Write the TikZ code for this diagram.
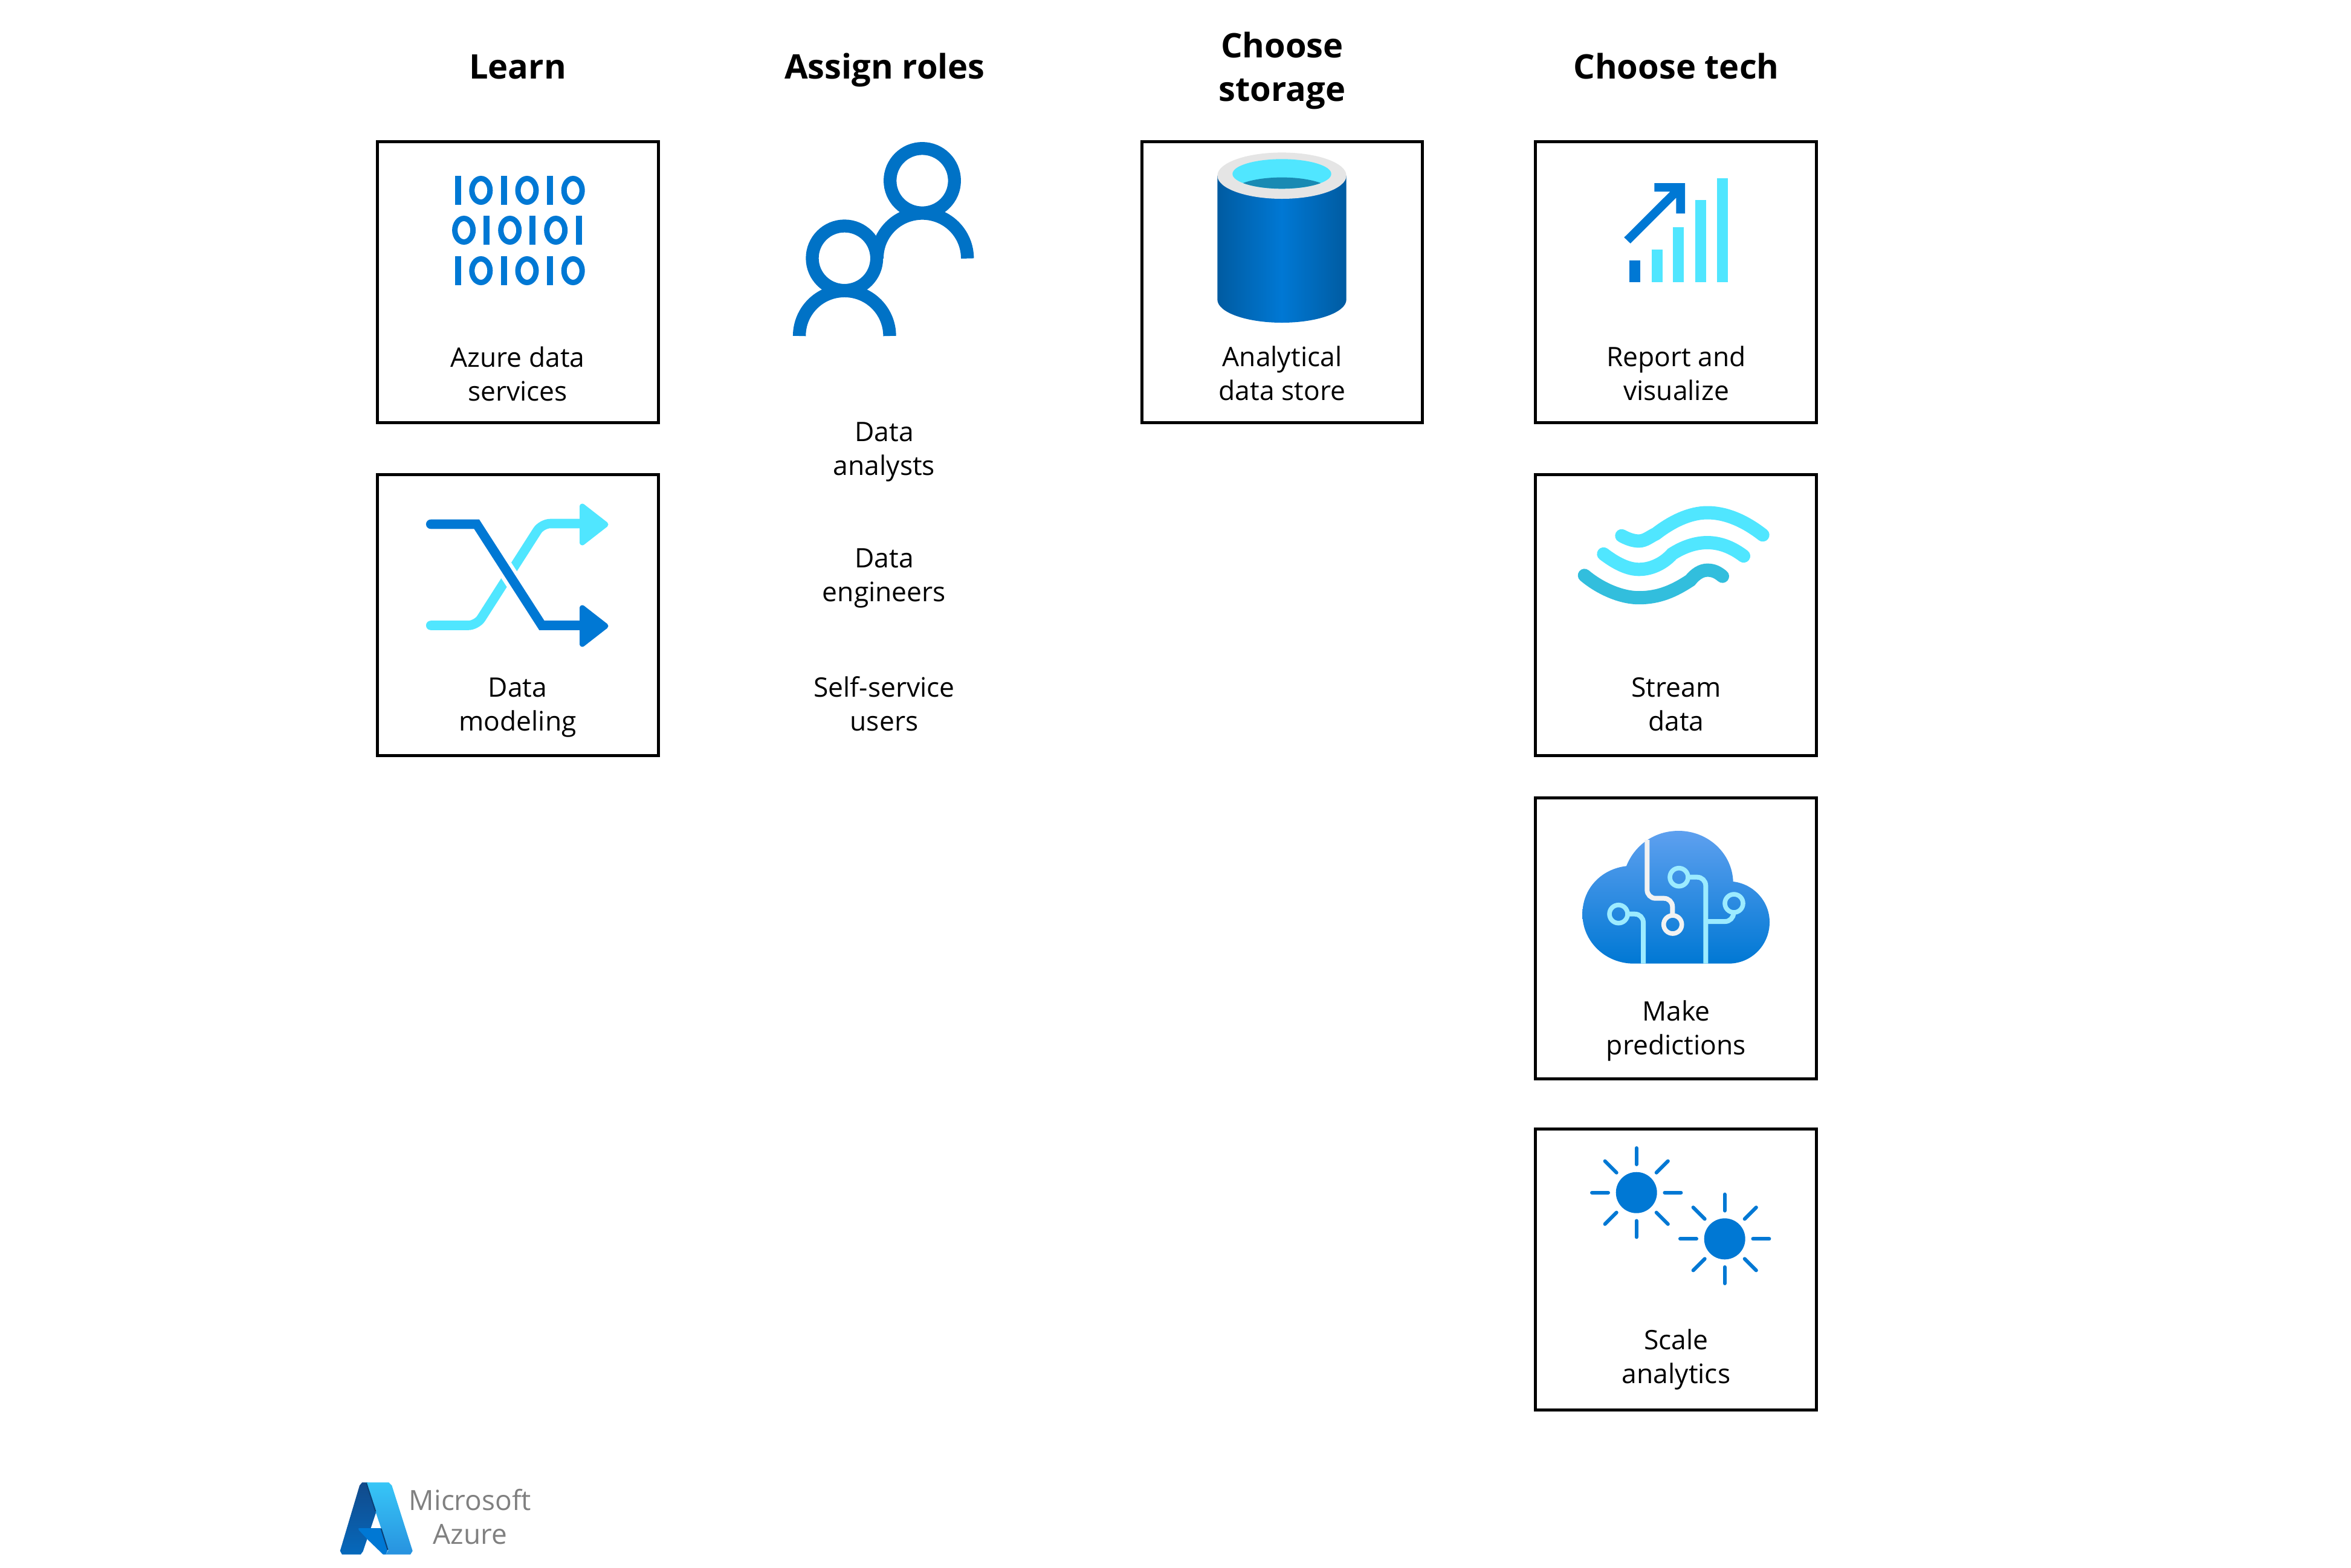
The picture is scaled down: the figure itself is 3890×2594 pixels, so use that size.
\documentclass[tikz,border=0pt]{standalone}
\usepackage{fontspec}
\setmainfont{Open Sans}
\definecolor{azblue}{HTML}{0078D4}
\definecolor{azcyan}{HTML}{50E6FF}
\definecolor{azpeople}{HTML}{0072C6}
\definecolor{azwave}{HTML}{32BEDD}
\definecolor{azpale}{HTML}{9CEBFF}
\definecolor{azgrey}{HTML}{F2F2F2}
\definecolor{azshadow}{HTML}{0B3F74}
\tikzset{every picture/.style={line width=0.75pt}}
\tikzset{
  boxline/.style={draw=black,line width=1.25pt},
  coltitle/.style={inner sep=0pt,anchor=base,align=center,font=\fontsize{14}{18}\selectfont\bfseries},
  itemtext/.style={inner sep=0pt,anchor=base,align=center,font=\fontsize{11.1}{14}\selectfont},
  logotext/.style={inner sep=0pt,anchor=base,align=center,text=black!50,font=\fontsize{11.5}{14}\selectfont},
  bitone/.style={draw=azblue,line width=2.5pt},
  bitzero/.style={draw=azblue,line width=2.25pt},
  sunray/.style={draw=azblue,line width=1.5pt,line cap=round},
  waveline/.style={line width=5.5pt,line cap=round},
  circuit/.style={line width=2pt,rounded corners=3.5pt}
}
\begin{document}
\begin{tikzpicture}[x=0.25pt,y=0.25pt,yscale=-1,xscale=1]
\useasboundingbox (0,0) rectangle (3890,2594);

%Shape: Rectangle
\draw [boxline] (624,234.7) rectangle (1089,699.7);
\draw [boxline] (624,785) rectangle (1089,1250.4);
\draw [boxline] (1889,234.7) rectangle (2353.5,699.7);
\draw [boxline] (2540.5,234.7) rectangle (3005.5,699.7);
\draw [boxline] (2540.5,785) rectangle (3005.5,1250.4);
\draw [boxline] (2540.5,1320.5) rectangle (3005.5,1785.5);
\draw [boxline] (2540.5,1868.5) rectangle (3005.5,2333.5);

%Binary digits, first row
\draw [bitone] (757.7,291) -- (757.7,339);
\draw [bitzero] (795.8,315) ellipse (15 and 19.5);
\draw [bitone] (833.9,291) -- (833.9,339);
\draw [bitzero] (872,315) ellipse (15 and 19.5);
\draw [bitone] (910.1,291) -- (910.1,339);
\draw [bitzero] (948.2,315) ellipse (15 and 19.5);
%Binary digits, second row
\draw [bitzero] (767.6,381) ellipse (15 and 19.5);
\draw [bitone] (805,357) -- (805,405);
\draw [bitzero] (843.7,381) ellipse (15 and 19.5);
\draw [bitone] (881,357) -- (881,405);
\draw [bitzero] (919.7,381) ellipse (15 and 19.5);
\draw [bitone] (957.7,357) -- (957.7,405);
%Binary digits, third row
\draw [bitone] (757.7,424) -- (757.7,472);
\draw [bitzero] (795.8,448) ellipse (15 and 19.5);
\draw [bitone] (833.9,424) -- (833.9,472);
\draw [bitzero] (872,448) ellipse (15 and 19.5);
\draw [bitone] (910.1,424) -- (910.1,472);
\draw [bitzero] (948.2,448) ellipse (15 and 19.5);

%Shuffle arrows
\draw [azcyan,line width=3.9pt,line cap=round,rounded corners=3.5pt] (712.7,1035) -- (788.7,1035) -- (896.5,866.5) -- (966,866.5);
\draw [white,line width=7pt] (825,924.5) -- (860,978.5);
\draw [azblue,line width=3.9pt,line cap=round] (712.7,867.5) -- (788.7,867.5) -- (896.5,1035) -- (966,1035);
\draw [azcyan,fill=azcyan,line width=2.25pt,line join=round] (963.5,838) -- (1002,868) -- (963.5,898) -- cycle;
\draw [azblue,fill=azblue,line width=2.25pt,line join=round] (963.5,1006) -- (1002,1036) -- (963.5,1066) -- cycle;

%Shape: Circle (people)
\draw [azpeople,line width=5.33pt] (1526,299) circle (53.3);
\draw [azpeople,line width=5.33pt] (1397.3,427.3) circle (53.3);
%Curve Lines
\draw [azpeople,line width=5.33pt] (1600.7,427.7) .. controls (1600.7,386.4) and (1567.3,353) .. (1526,353) .. controls (1484.7,353) and (1451.3,386.4) .. (1451.3,427.7);
\draw [azpeople,line width=5.33pt] (1472,556) .. controls (1472,514.7) and (1438.6,481.3) .. (1397.3,481.3) .. controls (1356,481.3) and (1322.6,514.7) .. (1322.6,556);

%Shape: Can
\shade [left color=black!24!azblue,right color=black!24!azblue,middle color=azblue] (2014.3,290.7) -- (2014.3,495.7) .. controls (2014.3,516.9) and (2062.1,534) .. (2121,534) .. controls (2179.9,534) and (2227.7,516.9) .. (2227.7,495.7) -- (2227.7,290.7) -- cycle;
\fill [black!10] (2121,290.7) ellipse (106.7 and 38.3);
\fill [azcyan] (2121,287.8) ellipse (81.7 and 24.5);
\begin{scope}
\clip (2121,287.8) ellipse (81.7 and 24.5);
\fill [fill={rgb, 255:red, 25; green, 138; blue, 179}] (2121,318.1) ellipse (81.7 and 24.5);
\end{scope}

%Bar chart
\fill [azblue] (2696,431) rectangle (2714.3,466.6);
\fill [azcyan] (2732.7,413) rectangle (2750.7,466.6);
\fill [azcyan] (2768.3,376) rectangle (2786,466.6);
\fill [azcyan] (2805,331) rectangle (2823,466.6);
\fill [azcyan] (2841,295) rectangle (2859,466.6);
\fill [azblue] (2737.3,303.1) -- (2788,303.1) -- (2788,353.3) -- (2773.3,353.3) -- (2773.3,327.2) -- (2697.7,402.9) -- (2687.3,392.9) -- (2763.3,317.2) -- (2737.3,317.2) -- cycle;

%Curve Lines (stream)
\draw [azcyan,waveline] (2683.3,886.7) .. controls (2692,891.5) and (2702,895.4) .. (2711.7,895.4) .. controls (2722,895.4) and (2730,888) .. (2740,883.3) .. controls (2765,864) and (2795,848.5) .. (2825,848.5) .. controls (2860,848.5) and (2892,866) .. (2916.7,885.3);
\draw [azcyan,waveline] (2653.3,916.8) .. controls (2668,928) and (2690,942.3) .. (2711.7,942.3) .. controls (2735,942.3) and (2755,930) .. (2766.7,916.8) .. controls (2785,905) and (2805,898) .. (2825,898) .. controls (2845,898) and (2865,905) .. (2885,920.2);
\draw [azwave,waveline] (2621.7,952.3) .. controls (2645,972) and (2680,989.2) .. (2711.7,989.2) .. controls (2745,989.2) and (2770,978) .. (2796.7,960.4) .. controls (2805,950) and (2815,943.6) .. (2825,943.6) .. controls (2835,943.6) and (2842,947) .. (2850,953.7);

%Shape: Cloud
\shade [top color={rgb, 255:red, 94; green, 160; blue, 239},bottom color=azblue] (2703.3,1594.7) .. controls (2656,1594.7) and (2618.3,1558) .. (2618.3,1512.7) .. controls (2618.3,1470) and (2650,1438) .. (2691,1433.3) .. controls (2705,1398) and (2738,1375) .. (2777.3,1375) .. controls (2826,1375) and (2866,1412) .. (2867.7,1459) .. controls (2902,1463) and (2928,1492) .. (2928,1526) .. controls (2928,1564) and (2898,1594.7) .. (2860,1594.7) -- cycle;
\draw [azpale,circuit] (2695,1512.7) -- (2719,1512.7) -- (2719,1594.7);
\draw [azpale,circuit] (2795,1451.7) -- (2822.3,1451.7) -- (2822.3,1594.7);
\draw [azpale,circuit] (2822.3,1525) -- (2868.3,1525) -- (2868.3,1511.7);
\draw [azgrey,circuit] (2725.3,1390) -- (2725.3,1486.7) -- (2767.3,1486.7) -- (2767.3,1513.3);
\draw [azpale,line width=1.9pt] (2678,1512.7) circle (15);
\draw [azpale,line width=1.9pt] (2778,1451.7) circle (15);
\draw [azpale,line width=1.9pt] (2869,1495) circle (15);
\draw [azgrey,line width=1.9pt] (2767.7,1530) circle (15);

%Shape: Circle (suns)
\fill [azblue] (2707.7,1973.7) circle (34);
\fill [azblue] (2853.7,2050.3) circle (34);
%Straight Lines
\draw [sunray] (2707.7,1927) -- (2707.7,1900);
\draw [sunray] (2707.7,2020.4) -- (2707.7,2047.4);
\draw [sunray] (2661,1973.7) -- (2634,1973.7);
\draw [sunray] (2754.4,1973.7) -- (2781.4,1973.7);
\draw [sunray] (2740.7,1940.7) -- (2759.8,1921.6);
\draw [sunray] (2674.7,1940.7) -- (2655.6,1921.6);
\draw [sunray] (2740.7,2006.7) -- (2759.8,2025.8);
\draw [sunray] (2674.7,2006.7) -- (2655.6,2025.8);
\draw [sunray] (2853.7,2003.6) -- (2853.7,1976.6);
\draw [sunray] (2853.7,2097) -- (2853.7,2124);
\draw [sunray] (2807,2050.3) -- (2780,2050.3);
\draw [sunray] (2900.4,2050.3) -- (2927.4,2050.3);
\draw [sunray] (2886.7,2017.3) -- (2905.8,1998.2);
\draw [sunray] (2820.7,2017.3) -- (2801.6,1998.2);
\draw [sunray] (2886.7,2083.3) -- (2905.8,2102.4);
\draw [sunray] (2820.7,2083.3) -- (2801.6,2102.4);

%Logo
\shade [top color={rgb, 255:red, 17; green, 74; blue, 139},bottom color={rgb, 255:red, 6; green, 105; blue, 188}] (562.7,2566.7) -- (595,2458.3) -- (599.3,2453.3) -- (608.3,2453.3) -- (622.3,2502.7) -- (600.7,2567.3) -- (596.7,2572.7) -- (566,2572.7) -- cycle;
\fill [azblue] (593.3,2529) -- (630,2529) -- (641.7,2565) -- (638.3,2572.7) -- (634,2572.7) -- (607.7,2547.3) -- (593.3,2531.7) -- cycle;
\shade [top color={rgb, 255:red, 55; green, 198; blue, 247},bottom color={rgb, 255:red, 40; green, 146; blue, 223}] (605,2453.3) -- (643.3,2453.3) -- (648.3,2458.3) -- (682.7,2566.7) -- (679,2572.7) -- (638.3,2572.7) -- (642.7,2565) -- cycle;
\draw [azshadow,line width=0.5pt] (606,2454) -- (621.5,2501.5);
\draw [azshadow,line width=0.5pt] (630.5,2529.5) -- (641.7,2565);

% Text Node
\draw (856.5,130) node [coltitle] (learn) {Learn};
\draw (1464,130) node [coltitle] (assign) {Assign roles};
\draw (2121.5,167) node [coltitle] (storage) {Choose\\storage};
\draw (2773.5,130) node [coltitle] (tech) {Choose tech};
% Text Node
\draw (856.5,663) node [itemtext] (azure) {Azure data\\services};
\draw (856.5,1209) node [itemtext] (modeling) {Data\\modeling};
\draw (1463,786) node [itemtext] (analysts) {Data\\analysts};
\draw (1463,995) node [itemtext] (engineers) {Data\\engineers};
\draw (1463,1209) node [itemtext] (selfservice) {Self-service\\users};
\draw (2121.5,662) node [itemtext] (store) {Analytical\\data store};
\draw (2773.5,662) node [itemtext] (report) {Report and\\visualize};
\draw (2773.5,1209) node [itemtext] (stream) {Stream\\data};
\draw (2773.5,1745) node [itemtext] (predict) {Make\\predictions};
\draw (2773.5,2289) node [itemtext] (scale) {Scale\\analytics};
% Text Node
\draw (778,2555) node [logotext] (logo) {Microsoft\\Azure};

\end{tikzpicture}
\end{document}
